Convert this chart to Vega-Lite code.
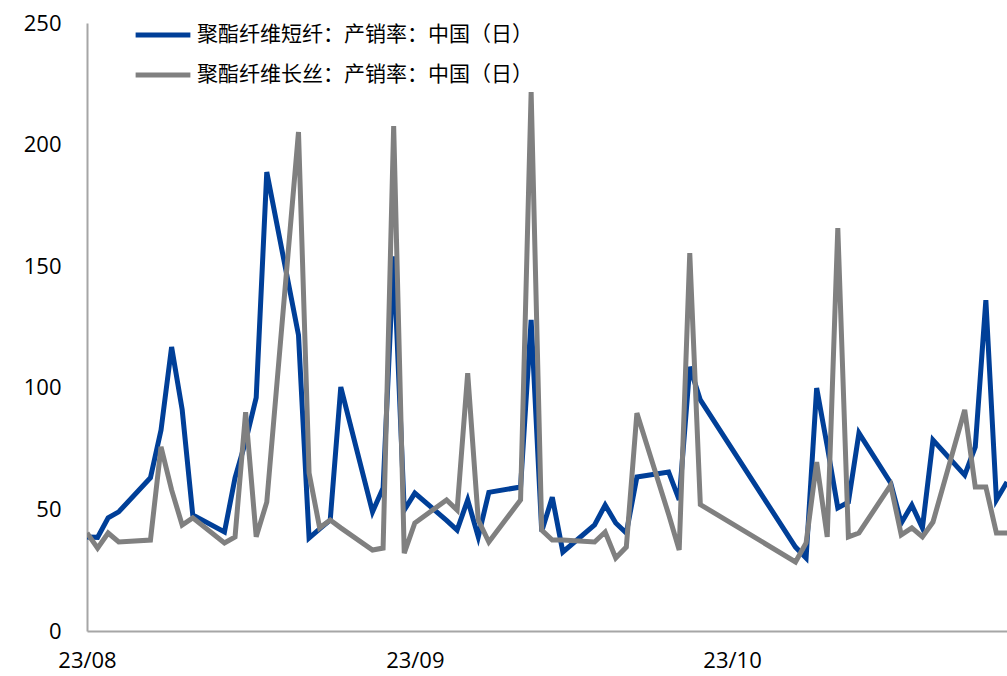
{
  "$schema": "https://vega.github.io/schema/vega-lite/v6.json",
  "width": 920,
  "height": 608,
  "autosize": {"type": "none"},
  "padding": {"left": 87, "top": 23, "right": 0, "bottom": 45},
  "background": "white",
  "config": {
    "view": {"stroke": null},
    "font": "Noto Sans CJK SC",
    "axis": {"labelFont": "Open Sans", "labelColor": "#000000"}
  },
  "datasets": {
    "rows": [
      {"date": "2023-08-01", "s": "短纤", "v": 38.7}, {"date": "2023-08-01", "s": "长丝", "v": 40.3},
      {"date": "2023-08-02", "s": "短纤", "v": 38.5}, {"date": "2023-08-02", "s": "长丝", "v": 34.1},
      {"date": "2023-08-03", "s": "短纤", "v": 46.5}, {"date": "2023-08-03", "s": "长丝", "v": 40.3},
      {"date": "2023-08-04", "s": "短纤", "v": 49.0}, {"date": "2023-08-04", "s": "长丝", "v": 36.6},
      {"date": "2023-08-07", "s": "短纤", "v": 63.0}, {"date": "2023-08-07", "s": "长丝", "v": 37.4},
      {"date": "2023-08-08", "s": "短纤", "v": 82.6}, {"date": "2023-08-08", "s": "长丝", "v": 75.7},
      {"date": "2023-08-09", "s": "短纤", "v": 116.8}, {"date": "2023-08-09", "s": "长丝", "v": 58.0},
      {"date": "2023-08-10", "s": "短纤", "v": 91.0}, {"date": "2023-08-10", "s": "长丝", "v": 43.6},
      {"date": "2023-08-11", "s": "短纤", "v": 47.7}, {"date": "2023-08-11", "s": "长丝", "v": 46.5},
      {"date": "2023-08-14", "s": "短纤", "v": 40.7}, {"date": "2023-08-14", "s": "长丝", "v": 36.2},
      {"date": "2023-08-15", "s": "短纤", "v": 63.0}, {"date": "2023-08-15", "s": "长丝", "v": 38.7},
      {"date": "2023-08-16", "s": "短纤", "v": 78.0}, {"date": "2023-08-16", "s": "长丝", "v": 90.0},
      {"date": "2023-08-17", "s": "短纤", "v": 96.0}, {"date": "2023-08-17", "s": "长丝", "v": 38.7},
      {"date": "2023-08-18", "s": "短纤", "v": 188.7}, {"date": "2023-08-18", "s": "长丝", "v": 53.0},
      {"date": "2023-08-21", "s": "短纤", "v": 121.7}, {"date": "2023-08-21", "s": "长丝", "v": 205.2},
      {"date": "2023-08-22", "s": "短纤", "v": 38.2}, {"date": "2023-08-22", "s": "长丝", "v": 65.0},
      {"date": "2023-08-23", "s": "短纤", "v": 42.0}, {"date": "2023-08-23", "s": "长丝", "v": 42.4},
      {"date": "2023-08-24", "s": "短纤", "v": 45.6}, {"date": "2023-08-24", "s": "长丝", "v": 45.6},
      {"date": "2023-08-25", "s": "短纤", "v": 100.3}, {"date": "2023-08-25", "s": "长丝", "v": 42.4},
      {"date": "2023-08-28", "s": "短纤", "v": 49.0}, {"date": "2023-08-28", "s": "长丝", "v": 33.3},
      {"date": "2023-08-29", "s": "短纤", "v": 58.8}, {"date": "2023-08-29", "s": "长丝", "v": 34.1},
      {"date": "2023-08-30", "s": "短纤", "v": 154.0}, {"date": "2023-08-30", "s": "长丝", "v": 207.6},
      {"date": "2023-08-31", "s": "短纤", "v": 49.7}, {"date": "2023-08-31", "s": "长丝", "v": 32.0},
      {"date": "2023-09-01", "s": "短纤", "v": 56.7}, {"date": "2023-09-01", "s": "长丝", "v": 44.4},
      {"date": "2023-09-04", "s": "短纤", "v": 45.5}, {"date": "2023-09-04", "s": "长丝", "v": 53.9},
      {"date": "2023-09-05", "s": "短纤", "v": 41.5}, {"date": "2023-09-05", "s": "长丝", "v": 49.7},
      {"date": "2023-09-06", "s": "短纤", "v": 53.9}, {"date": "2023-09-06", "s": "长丝", "v": 106.0},
      {"date": "2023-09-07", "s": "短纤", "v": 38.7}, {"date": "2023-09-07", "s": "长丝", "v": 45.6},
      {"date": "2023-09-08", "s": "短纤", "v": 57.0}, {"date": "2023-09-08", "s": "长丝", "v": 36.6},
      {"date": "2023-09-11", "s": "短纤", "v": 59.2}, {"date": "2023-09-11", "s": "长丝", "v": 53.9},
      {"date": "2023-09-12", "s": "短纤", "v": 127.9}, {"date": "2023-09-12", "s": "长丝", "v": 221.6},
      {"date": "2023-09-13", "s": "短纤", "v": 41.0}, {"date": "2023-09-13", "s": "长丝", "v": 41.5},
      {"date": "2023-09-14", "s": "短纤", "v": 55.0}, {"date": "2023-09-14", "s": "长丝", "v": 37.4},
      {"date": "2023-09-15", "s": "短纤", "v": 32.5}, {"date": "2023-09-15", "s": "长丝", "v": 37.4},
      {"date": "2023-09-18", "s": "短纤", "v": 43.6}, {"date": "2023-09-18", "s": "长丝", "v": 36.6},
      {"date": "2023-09-19", "s": "短纤", "v": 51.8}, {"date": "2023-09-19", "s": "长丝", "v": 40.7},
      {"date": "2023-09-20", "s": "短纤", "v": 44.4}, {"date": "2023-09-20", "s": "长丝", "v": 30.0},
      {"date": "2023-09-21", "s": "短纤", "v": 40.3}, {"date": "2023-09-21", "s": "长丝", "v": 34.5},
      {"date": "2023-09-22", "s": "短纤", "v": 63.3}, {"date": "2023-09-22", "s": "长丝", "v": 89.6},
      {"date": "2023-09-25", "s": "短纤", "v": 65.4}, {"date": "2023-09-25", "s": "长丝", "v": 48.0},
      {"date": "2023-09-26", "s": "短纤", "v": 53.9}, {"date": "2023-09-26", "s": "长丝", "v": 33.3},
      {"date": "2023-09-27", "s": "短纤", "v": 108.6}, {"date": "2023-09-27", "s": "长丝", "v": 155.4},
      {"date": "2023-09-28", "s": "短纤", "v": 95.0}, {"date": "2023-09-28", "s": "长丝", "v": 52.0},
      {"date": "2023-10-07", "s": "短纤", "v": 34.5}, {"date": "2023-10-07", "s": "长丝", "v": 28.4},
      {"date": "2023-10-08", "s": "短纤", "v": 30.0}, {"date": "2023-10-08", "s": "长丝", "v": 36.2},
      {"date": "2023-10-09", "s": "短纤", "v": 99.9}, {"date": "2023-10-09", "s": "长丝", "v": 69.5},
      {"date": "2023-10-10", "s": "短纤", "v": 76.0}, {"date": "2023-10-10", "s": "长丝", "v": 38.7},
      {"date": "2023-10-11", "s": "短纤", "v": 50.6}, {"date": "2023-10-11", "s": "长丝", "v": 165.7},
      {"date": "2023-10-12", "s": "短纤", "v": 53.0}, {"date": "2023-10-12", "s": "长丝", "v": 38.7},
      {"date": "2023-10-13", "s": "短纤", "v": 81.4}, {"date": "2023-10-13", "s": "长丝", "v": 40.3},
      {"date": "2023-10-16", "s": "短纤", "v": 60.9}, {"date": "2023-10-16", "s": "长丝", "v": 60.0},
      {"date": "2023-10-17", "s": "短纤", "v": 44.4}, {"date": "2023-10-17", "s": "长丝", "v": 39.5},
      {"date": "2023-10-18", "s": "短纤", "v": 51.8}, {"date": "2023-10-18", "s": "长丝", "v": 42.4},
      {"date": "2023-10-19", "s": "短纤", "v": 42.4}, {"date": "2023-10-19", "s": "长丝", "v": 38.7},
      {"date": "2023-10-20", "s": "短纤", "v": 78.5}, {"date": "2023-10-20", "s": "长丝", "v": 44.8},
      {"date": "2023-10-23", "s": "短纤", "v": 64.1}, {"date": "2023-10-23", "s": "长丝", "v": 90.9},
      {"date": "2023-10-24", "s": "短纤", "v": 75.7}, {"date": "2023-10-24", "s": "长丝", "v": 59.2},
      {"date": "2023-10-25", "s": "短纤", "v": 136.0}, {"date": "2023-10-25", "s": "长丝", "v": 59.2},
      {"date": "2023-10-26", "s": "短纤", "v": 53.9}, {"date": "2023-10-26", "s": "长丝", "v": 40.3},
      {"date": "2023-10-27", "s": "短纤", "v": 61.3}, {"date": "2023-10-27", "s": "长丝", "v": 40.3}
    ]
  },
  "data": {"name": "rows"},
  "transform": [
    {"lookup": "s", "from": {"data": {"values": [
      {"s": "短纤", "label": "聚酯纤维短纤：产销率：中国（日）"},
      {"s": "长丝", "label": "聚酯纤维长丝：产销率：中国（日）"}
    ]}, "key": "s", "fields": ["label"]}}
  ],
  "mark": {"type": "line", "strokeWidth": 5, "strokeJoin": "miter", "strokeCap": "butt", "clip": true},
  "encoding": {
    "x": {
      "field": "date", "type": "temporal",
      "scale": {"type": "utc", "domain": [{"year": 2023, "month": 8, "date": 1, "utc": true}, {"year": 2023, "month": 10, "date": 27, "utc": true}]},
      "axis": {
        "title": null,
        "format": "%y/%m",
        "values": [{"year": 2023, "month": 8, "date": 1, "utc": true}, {"year": 2023, "month": 9, "date": 1, "utc": true}, {"year": 2023, "month": 10, "date": 1, "utc": true}],
        "grid": false, "ticks": false,
        "domainColor": "#a6a6a6", "domainWidth": 2,
        "labelFontSize": 22, "labelPadding": 19,
        "labelAlign": "center", "labelFlush": false
      }
    },
    "y": {
      "field": "v", "type": "quantitative",
      "scale": {"domain": [0, 250], "nice": false},
      "axis": {
        "title": null,
        "values": [0, 50, 100, 150, 200, 250],
        "grid": false, "ticks": false,
        "domainColor": "#a6a6a6", "domainWidth": 2,
        "labelFontSize": 22, "labelPadding": 26
      }
    },
    "color": {
      "field": "label", "type": "nominal",
      "scale": {"domain": ["聚酯纤维短纤：产销率：中国（日）", "聚酯纤维长丝：产销率：中国（日）"], "range": ["#003f98", "#808080"]},
      "legend": {
        "title": null,
        "orient": "none", "legendX": 46, "legendY": -18,
        "symbolType": "stroke", "symbolSize": 3000, "symbolStrokeWidth": 5,
        "labelFont": "Noto Sans CJK SC", "labelFontSize": 21, "labelColor": "#000000",
        "labelOffset": 4, "labelLimit": 0, "rowPadding": -15
      }
    }
  }
}
